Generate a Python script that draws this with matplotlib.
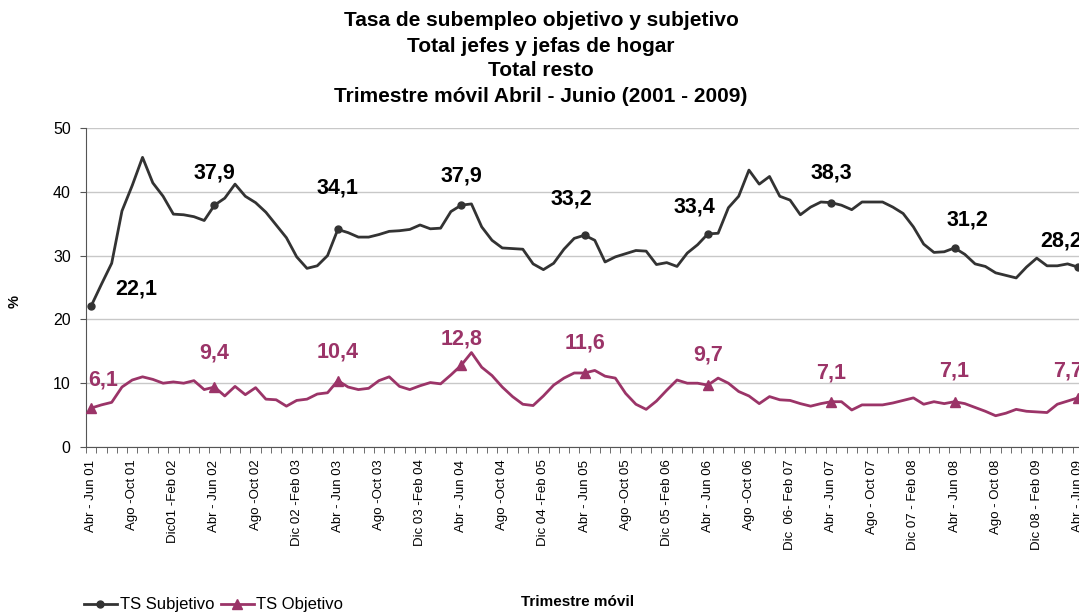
import matplotlib
matplotlib.use("Agg")
import matplotlib.pyplot as plt
from matplotlib.ticker import FixedLocator
import numpy as np

plt.rcParams['font.family'] = ['Liberation Sans', 'DejaVu Sans']

title_lines = ["Tasa de subempleo objetivo y subjetivo", "Total jefes y jefas de hogar",
               "Total resto", "Trimestre móvil Abril - Junio (2001 - 2009)"]

tick_labels = ["Abr - Jun 01", "Ago -Oct 01", "Dic01 -Feb 02", "Abr - Jun 02", "Ago -Oct 02",
               "Dic 02 -Feb 03", "Abr - Jun 03", "Ago -Oct 03", "Dic 03 -Feb 04", "Abr - Jun 04",
               "Ago -Oct 04", "Dic 04 -Feb 05", "Abr - Jun 05", "Ago -Oct 05", "Dic 05 -Feb 06",
               "Abr - Jun 06", "Ago -Oct 06", "Dic  06- Feb 07", "Abr - Jun 07", "Ago - Oct 07",
               "Dic 07 - Feb 08", "Abr - Jun 08", "Ago - Oct 08", "Dic 08 - Feb 09", "Abr - Jun 09"]

subjetivo = [22.1, 25.5, 28.8, 37.0, 41.0, 45.4, 41.4, 39.3, 36.5, 36.4,
             36.1, 35.5, 37.9, 39.0, 41.2, 39.3, 38.3, 36.8, 34.8, 32.8,
             29.8, 28.0, 28.4, 30.0, 34.1, 33.6, 32.9, 32.9, 33.3, 33.8,
             33.9, 34.1, 34.8, 34.2, 34.3, 36.9, 37.9, 38.1, 34.5, 32.4,
             31.2, 31.1, 31.0, 28.7, 27.8, 28.8, 31.0, 32.7, 33.2, 32.4,
             29.0, 29.8, 30.3, 30.8, 30.7, 28.6, 28.9, 28.3, 30.4, 31.7,
             33.4, 33.5, 37.5, 39.3, 43.4, 41.2, 42.4, 39.3, 38.7, 36.4,
             37.6, 38.4, 38.3, 37.9, 37.2, 38.4, 38.4, 38.4, 37.6, 36.6,
             34.5, 31.8, 30.5, 30.6, 31.2, 30.2, 28.7, 28.3, 27.3, 26.9,
             26.5, 28.2, 29.6, 28.4, 28.4, 28.7, 28.2]

objetivo = [6.1, 6.6, 7.0, 9.4, 10.5, 11.0, 10.6, 10.0, 10.2, 10.0,
            10.4, 9.0, 9.4, 8.0, 9.5, 8.2, 9.3, 7.5, 7.4, 6.4,
            7.3, 7.5, 8.3, 8.5, 10.4, 9.4, 9.0, 9.2, 10.4, 11.0,
            9.5, 9.0, 9.6, 10.1, 9.9, 11.3, 12.8, 14.8, 12.5, 11.2,
            9.4, 7.9, 6.7, 6.5, 8.0, 9.7, 10.8, 11.6, 11.6, 12.0,
            11.1, 10.8, 8.4, 6.7, 5.9, 7.2, 8.9, 10.5, 10.0, 10.0,
            9.7, 10.8, 10.0, 8.7, 8.0, 6.8, 7.9, 7.4, 7.3, 6.8,
            6.4, 6.8, 7.1, 7.1, 5.8, 6.6, 6.6, 6.6, 6.9, 7.3,
            7.7, 6.7, 7.1, 6.8, 7.1, 6.8, 6.2, 5.6, 4.9, 5.3,
            5.9, 5.6, 5.5, 5.4, 6.7, 7.2, 7.7]

label_idx = [0, 12, 24, 36, 48, 60, 72, 84, 96]
sub_offsets = [(45, 17), (0, 32), (0, 41), (0, 29), (-13, 36), (-13, 27), (0, 30), (13, 28), (-17, 26)]
obj_offsets = [(12, 28), (0, 34), (0, 29), (0, 26), (0, 30), (0, 30), (0, 29), (0, 31), (-10, 27)]

sub_color = "#333333"
obj_color = "#9B3468"

fig = plt.figure(figsize=(10.79, 6.15), dpi=100)
ax = fig.add_axes([86 / 1079, 1 - 447 / 615, 997 / 1079, 319 / 615])

x = np.arange(len(subjetivo))
ax.plot(x, subjetivo, color=sub_color, lw=2, marker='o', markersize=5,
        markevery=label_idx, label="TS Subjetivo", zorder=3, clip_on=False)
ax.plot(x, objetivo, color=obj_color, lw=2, marker='^', markersize=6.5,
        markevery=label_idx, label="TS Objetivo", zorder=3, clip_on=False)

for i, (dx, dy) in zip(label_idx, sub_offsets):
    ax.annotate(f"{subjetivo[i]:.1f}".replace('.', ','), (x[i], subjetivo[i]),
                xytext=(dx, dy), textcoords='offset pixels', ha='center', va='center',
                fontsize=15.5, fontweight='bold', color='black', annotation_clip=False)
for i, (dx, dy) in zip(label_idx, obj_offsets):
    ax.annotate(f"{objetivo[i]:.1f}".replace('.', ','), (x[i], objetivo[i]),
                xytext=(dx, dy), textcoords='offset pixels', ha='center', va='center',
                fontsize=15.5, fontweight='bold', color=obj_color, annotation_clip=False)

ax.set_xlim(-0.5, len(subjetivo) - 0.5)
ax.set_ylim(0, 50)
ax.set_yticks([0, 10, 20, 30, 40, 50])
ax.tick_params(axis='y', labelsize=11.5, length=4, color='#555555', pad=7)
ax.set_xticks(np.arange(0, len(subjetivo), 4))
ax.set_xticklabels(tick_labels, rotation=90, fontsize=9.5)
ax.tick_params(axis='x', which='major', length=0, pad=9)
ax.xaxis.set_minor_locator(FixedLocator(np.arange(-0.5, len(subjetivo), 1)))
ax.tick_params(axis='x', which='minor', length=4, color='#555555')
ax.grid(axis='y', color='#c8c8c8', lw=1)
ax.set_axisbelow(True)
for s in ['top', 'right']:
    ax.spines[s].set_visible(False)
ax.spines['left'].set_color('#555555')
ax.spines['bottom'].set_color('#555555')

fig.text(15 / 1079, 1 - 302 / 615, '%', rotation=90, ha='center', va='center',
         fontsize=10.5, fontweight='bold')

for line, yc in zip(title_lines, [20, 46, 71, 96]):
    fig.text(541 / 1079, 1 - yc / 615, line, ha='center', va='center',
             fontsize=15, fontweight='bold')

fig.text(578 / 1079, 1 - 602 / 615, "Trimestre móvil", ha='center', va='center',
         fontsize=11, fontweight='bold')

fig.legend(loc='center left', bbox_to_anchor=(77 / 1079, 1 - 605 / 615), ncol=2, frameon=False,
           fontsize=12, handlelength=2.0, handletextpad=0.15, columnspacing=0.4,
           borderaxespad=0.0)

fig.savefig("out.png", dpi=100)
